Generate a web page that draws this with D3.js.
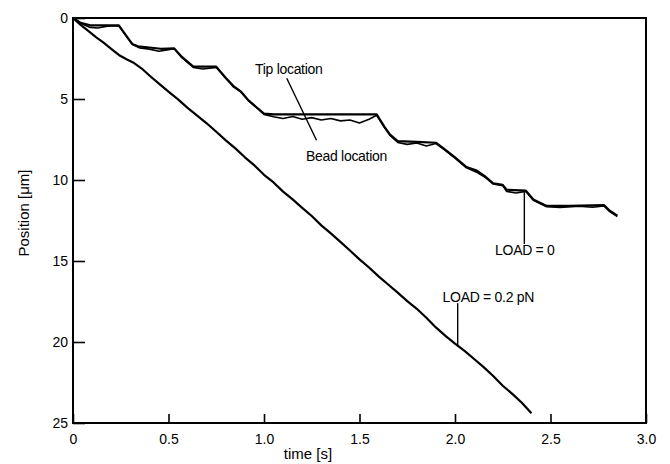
<!DOCTYPE html>
<html><head><meta charset="utf-8">
<script src="https://cdn.jsdelivr.net/npm/d3@7"></script>
<style>
body{margin:0;background:#fff;}
svg{display:block;}
text{font-family:"Liberation Sans",Arial,Helvetica,sans-serif;fill:#000;}
</style></head>
<body>
<svg id="chart" width="670" height="464"></svg>
<script>
// ---- data ----
const xTicks = [0, 0.5, 1.0, 1.5, 2.0, 2.5, 3.0];
const xTickLabels = ["0", "0.5", "1.0", "1.5", "2.0", "2.5", "3.0"];
const yTicks = [0, 5, 10, 15, 20, 25];
const yTickLabels = ["0", "5", "10", "15", "20", "25"];

// LOAD = 0 : tip location (time s, position um)
const tipTime = [0, 0.04, 0.09, 0.24, 0.27, 0.31, 0.34, 0.40, 0.46, 0.53, 0.57, 0.63, 0.75, 0.80, 0.84, 0.88, 0.92, 0.97, 1.00, 1.05, 1.30, 1.59, 1.63, 1.66, 1.70, 1.80, 1.90, 1.94, 2.00, 2.06, 2.11, 2.16, 2.20, 2.25, 2.27, 2.37, 2.41, 2.48, 2.60, 2.78, 2.81, 2.85];
const tipPos  = [0, 0.30, 0.45, 0.45, 0.95, 1.60, 1.75, 1.82, 1.90, 1.88, 2.40, 3.00, 3.00, 3.70, 4.20, 4.55, 5.10, 5.60, 5.90, 5.95, 5.95, 5.95, 6.70, 7.20, 7.60, 7.65, 7.70, 8.05, 8.60, 9.20, 9.40, 9.80, 10.20, 10.30, 10.60, 10.65, 11.20, 11.60, 11.60, 11.55, 11.90, 12.20];

// LOAD = 0 : bead location
const beadTime = [0, 0.04, 0.09, 0.13, 0.18, 0.24, 0.27, 0.31, 0.35, 0.40, 0.45, 0.50, 0.53, 0.57, 0.63, 0.68, 0.75, 0.80, 0.84, 0.88, 0.92, 0.97, 1.00, 1.05, 1.10, 1.15, 1.20, 1.25, 1.30, 1.35, 1.40, 1.45, 1.50, 1.55, 1.59, 1.63, 1.66, 1.70, 1.75, 1.80, 1.85, 1.90, 1.94, 2.00, 2.06, 2.11, 2.16, 2.20, 2.25, 2.27, 2.32, 2.37, 2.41, 2.48, 2.55, 2.65, 2.72, 2.78, 2.81, 2.85];
const beadPos  = [0, 0.32, 0.58, 0.62, 0.50, 0.48, 0.98, 1.62, 1.85, 1.92, 2.05, 1.95, 1.90, 2.45, 3.05, 3.15, 3.05, 3.72, 4.25, 4.58, 5.12, 5.62, 5.95, 6.10, 6.20, 6.08, 6.25, 6.15, 6.30, 6.20, 6.35, 6.30, 6.48, 6.25, 6.00, 6.75, 7.25, 7.68, 7.80, 7.72, 7.90, 7.75, 8.10, 8.65, 9.25, 9.50, 9.85, 10.25, 10.35, 10.70, 10.80, 10.70, 11.25, 11.65, 11.70, 11.62, 11.68, 11.60, 11.95, 12.25];

// LOAD = 0.2 pN
const loadTime = [0, 0.04, 0.08, 0.12, 0.16, 0.20, 0.24, 0.28, 0.32, 0.36, 0.40, 0.45, 0.50, 0.55, 0.60, 0.65, 0.70, 0.75, 0.80, 0.85, 0.90, 0.95, 1.00, 1.05, 1.10, 1.15, 1.20, 1.25, 1.30, 1.35, 1.40, 1.45, 1.50, 1.55, 1.60, 1.65, 1.70, 1.75, 1.80, 1.85, 1.90, 1.95, 2.00, 2.05, 2.10, 2.15, 2.20, 2.25, 2.30, 2.35, 2.40];
const loadPos  = [0, 0.42, 0.80, 1.18, 1.52, 1.90, 2.28, 2.55, 2.78, 3.12, 3.55, 4.05, 4.55, 5.02, 5.55, 6.02, 6.50, 7.02, 7.55, 8.05, 8.60, 9.10, 9.68, 10.15, 10.72, 11.20, 11.72, 12.22, 12.80, 13.30, 13.82, 14.35, 14.90, 15.40, 15.95, 16.45, 16.95, 17.48, 17.95, 18.50, 19.10, 19.62, 20.10, 20.55, 21.05, 21.55, 22.10, 22.70, 23.20, 23.75, 24.40];

// annotations
const annotLabels = ["Tip location", "Bead location", "LOAD = 0", "LOAD = 0.2 pN"];
const annotTextT = [0.953, 1.22, 2.21, 1.935];
const annotTextP = [3.21, 8.6, 14.4, 17.3];
const pointerFromT = [1.119, 2.363, 2.014];
const pointerFromP = [3.72, 10.75, 17.6];
const pointerToT = [1.275, 2.363, 2.014];
const pointerToP = [7.55, 13.95, 20.2];

// ---- chart ----
const svg = d3.select("#chart");
const L = 73, T = 18, R = 646, B = 423;
const x = d3.scaleLinear().domain([0, 3]).range([L, R]);
const y = d3.scaleLinear().domain([0, 25]).range([T, B]);

const xAxis = svg.append("g").attr("transform", `translate(0,${B})`)
  .call(d3.axisBottom(x).tickValues(xTicks).tickSize(-9).tickPadding(18)
    .tickFormat((d, i) => xTickLabels[i]));
const yAxis = svg.append("g").attr("transform", `translate(${L},0)`)
  .call(d3.axisLeft(y).tickValues(yTicks).tickSize(-12).tickPadding(5)
    .tickFormat((d, i) => yTickLabels[i]));
[xAxis, yAxis].forEach(g => {
  g.select(".domain").remove();
  g.selectAll("line").attr("stroke", "#000").attr("stroke-width", 1.6);
  g.selectAll("text").style("font-size", "14px").attr("fill", "#000");
});
xAxis.selectAll(".tick text").attr("dy", "0.2em");

svg.append("rect").attr("x", L).attr("y", T).attr("width", R - L).attr("height", B - T)
  .attr("fill", "none").attr("stroke", "#000").attr("stroke-width", 2);

const line = d3.line().x(d => x(d[0])).y(d => y(d[1]));
function drawSeries(ts, ps, w) {
  svg.append("path").datum(ts.map((t, i) => [t, ps[i]]))
    .attr("d", line).attr("fill", "none").attr("stroke", "#000")
    .attr("stroke-width", w).attr("stroke-linejoin", "round");
}
drawSeries(loadTime, loadPos, 2.2);
drawSeries(beadTime, beadPos, 1.6);
drawSeries(tipTime, tipPos, 2.2);

pointerFromT.forEach((t, i) => {
  svg.append("line").attr("x1", x(t)).attr("y1", y(pointerFromP[i]))
    .attr("x2", x(pointerToT[i])).attr("y2", y(pointerToP[i]))
    .attr("stroke", "#000").attr("stroke-width", 1.4);
});
annotLabels.forEach((s, i) => {
  svg.append("text").attr("x", x(annotTextT[i])).attr("y", y(annotTextP[i]))
    .attr("dominant-baseline", "middle").style("font-size", "14px")
    .attr("letter-spacing", "-0.3px").text(s);
});

svg.append("text").attr("x", 308).attr("y", 455).attr("text-anchor", "middle")
  .attr("dominant-baseline", "middle").style("font-size", "15px").text("time [s]");
svg.append("text").attr("transform", "translate(25,213) rotate(-90)")
  .attr("text-anchor", "middle").attr("dominant-baseline", "middle")
  .style("font-size", "15px").text("Position [μm]");
</script>
</body></html>
